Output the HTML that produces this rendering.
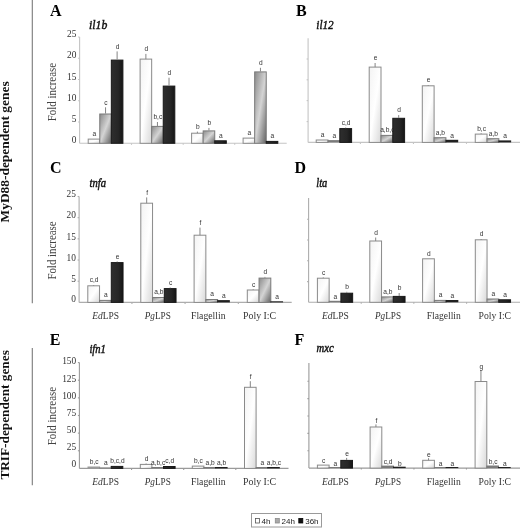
<!DOCTYPE html>
<html><head><meta charset="utf-8">
<style>
html,body{margin:0;padding:0;background:#fff;}
body{width:520px;height:528px;overflow:hidden;}
svg{display:block;filter:blur(0.3px);}
.pl{font-family:"Liberation Serif", serif;font-weight:bold;font-size:16px;fill:#000;}
.gn{font-family:"Liberation Serif", serif;font-style:italic;font-size:12.3px;fill:#111;stroke:#111;stroke-width:0.45px;}
.tl{font-family:"Liberation Serif", serif;font-size:9.4px;fill:#333;text-anchor:end;}
.yl{font-family:"Liberation Serif", serif;font-size:11.7px;fill:#444;text-anchor:middle;}
.xl{font-family:"Liberation Serif", serif;font-size:10.6px;fill:#333;}
.bl{font-family:"Liberation Sans", sans-serif;font-size:6.6px;fill:#333;text-anchor:middle;}
.lg{font-family:"Liberation Sans", sans-serif;font-size:8px;fill:#222;}
.side{font-family:"Liberation Serif", serif;font-weight:bold;font-size:13px;fill:#111;}
.ax{stroke-width:1.1;}
.eb{stroke:#858585;stroke-width:1;}
</style></head>
<body>
<svg width="520" height="528" viewBox="0 0 520 528">
<defs>
<linearGradient id="gw" x1="0" y1="0" x2="1" y2="1">
<stop offset="0" stop-color="#f3f3f3"/><stop offset="0.5" stop-color="#ffffff"/><stop offset="1" stop-color="#d8d8d8"/>
</linearGradient>
<linearGradient id="gg" x1="0" y1="0" x2="1" y2="1">
<stop offset="0" stop-color="#8a8a8a"/><stop offset="0.5" stop-color="#d4d4d4"/><stop offset="1" stop-color="#626262"/>
</linearGradient>
<linearGradient id="gb" x1="0" y1="0" x2="1" y2="0">
<stop offset="0" stop-color="#2e2e2e"/><stop offset="0.6" stop-color="#262626"/><stop offset="1" stop-color="#151515"/>
</linearGradient>
</defs>
<rect x="0" y="0" width="520" height="528" fill="#fff"/>
<text x="50" y="16" class="pl">A</text>
<text x="89.1" y="28.8" class="gn" textLength="18.2" lengthAdjust="spacingAndGlyphs">il1b</text>
<line x1="79.6" y1="37" x2="79.6" y2="143.3" stroke="#c4c4c4" class="ax"/>
<line x1="79.6" y1="143.3" x2="286.7" y2="143.3" stroke="#c4c4c4" class="ax"/>
<text x="76.4" y="37.2" class="tl">25</text>
<line x1="78.1" y1="37" x2="79.6" y2="37" stroke="#c4c4c4" class="ax"/>
<text x="76.4" y="58.4" class="tl">20</text>
<line x1="78.1" y1="58.26" x2="79.6" y2="58.26" stroke="#c4c4c4" class="ax"/>
<text x="76.4" y="79.6" class="tl">15</text>
<line x1="78.1" y1="79.52" x2="79.6" y2="79.52" stroke="#c4c4c4" class="ax"/>
<text x="76.4" y="101" class="tl">10</text>
<line x1="78.1" y1="100.78" x2="79.6" y2="100.78" stroke="#c4c4c4" class="ax"/>
<text x="76.4" y="122.2" class="tl">5</text>
<line x1="78.1" y1="122.04" x2="79.6" y2="122.04" stroke="#c4c4c4" class="ax"/>
<text x="76.4" y="143.2" class="tl">0</text>
<text transform="translate(55.8,92.1) rotate(-90)" class="yl" textLength="58.2" lengthAdjust="spacingAndGlyphs">Fold increase</text>
<rect x="88.2" y="139.1" width="11.57" height="4.2" fill="url(#gw)" stroke="#8a8a8a" stroke-width="1"/>
<text x="94.39" y="136.4" class="bl">a</text>
<rect x="99.77" y="114" width="11.57" height="29.3" fill="url(#gg)" stroke="#7a7a7a" stroke-width="1"/>
<line x1="105.56" y1="107.3" x2="105.56" y2="113.6" class="eb"/>
<text x="105.96" y="104.6" class="bl">c</text>
<rect x="111.34" y="60.1" width="11.57" height="83.2" fill="url(#gb)" stroke="#181818" stroke-width="1"/>
<line x1="117.12" y1="51.4" x2="117.12" y2="59.7" class="eb"/>
<text x="117.53" y="48.7" class="bl">d</text>
<rect x="140.1" y="59.1" width="11.57" height="84.2" fill="url(#gw)" stroke="#8a8a8a" stroke-width="1"/>
<line x1="145.88" y1="53.9" x2="145.88" y2="59.1" class="eb"/>
<text x="146.28" y="51.2" class="bl">d</text>
<rect x="151.67" y="126.4" width="11.57" height="16.9" fill="url(#gg)" stroke="#7a7a7a" stroke-width="1"/>
<line x1="157.45" y1="122" x2="157.45" y2="126" class="eb"/>
<text x="157.85" y="119.3" class="bl">b,c</text>
<rect x="163.24" y="86.1" width="11.57" height="57.2" fill="url(#gb)" stroke="#181818" stroke-width="1"/>
<line x1="169.03" y1="77.7" x2="169.03" y2="85.7" class="eb"/>
<text x="169.43" y="75" class="bl">d</text>
<rect x="191.6" y="133.2" width="11.57" height="10.1" fill="url(#gw)" stroke="#8a8a8a" stroke-width="1"/>
<line x1="197.38" y1="131.6" x2="197.38" y2="133.2" class="eb"/>
<text x="197.78" y="128.9" class="bl">b</text>
<rect x="203.17" y="130.9" width="11.57" height="12.4" fill="url(#gg)" stroke="#7a7a7a" stroke-width="1"/>
<line x1="208.95" y1="127.9" x2="208.95" y2="130.5" class="eb"/>
<text x="209.35" y="125.2" class="bl">b</text>
<rect x="214.74" y="140.8" width="11.57" height="2.5" fill="url(#gb)" stroke="#181818" stroke-width="1"/>
<text x="220.93" y="137.7" class="bl">a</text>
<rect x="243.1" y="138.1" width="11.57" height="5.2" fill="url(#gw)" stroke="#8a8a8a" stroke-width="1"/>
<text x="249.28" y="135.4" class="bl">a</text>
<rect x="254.67" y="71.9" width="11.57" height="71.4" fill="url(#gg)" stroke="#7a7a7a" stroke-width="1"/>
<line x1="260.45" y1="67.8" x2="260.45" y2="71.5" class="eb"/>
<text x="260.85" y="65.1" class="bl">d</text>
<rect x="266.24" y="141.4" width="11.57" height="1.9" fill="url(#gb)" stroke="#181818" stroke-width="1"/>
<text x="272.43" y="138.3" class="bl">a</text>
<line x1="131.5" y1="143.3" x2="131.5" y2="144.8" stroke="#c4c4c4" class="ax"/>
<line x1="183.2" y1="143.3" x2="183.2" y2="144.8" stroke="#c4c4c4" class="ax"/>
<line x1="234.7" y1="143.3" x2="234.7" y2="144.8" stroke="#c4c4c4" class="ax"/>
<text x="296" y="16.2" class="pl">B</text>
<text x="316.3" y="28.8" class="gn" textLength="17.3" lengthAdjust="spacingAndGlyphs">il12</text>
<line x1="308.1" y1="38.2" x2="308.1" y2="142.4" stroke="#c4c4c4" class="ax"/>
<line x1="308.1" y1="142.4" x2="520" y2="142.4" stroke="#c4c4c4" class="ax"/>
<line x1="306.6" y1="59" x2="308.1" y2="59" stroke="#c4c4c4" class="ax"/>
<line x1="306.6" y1="79.8" x2="308.1" y2="79.8" stroke="#c4c4c4" class="ax"/>
<line x1="306.6" y1="100.6" x2="308.1" y2="100.6" stroke="#c4c4c4" class="ax"/>
<line x1="306.6" y1="121.6" x2="308.1" y2="121.6" stroke="#c4c4c4" class="ax"/>
<rect x="316.2" y="140" width="11.8" height="2.4" fill="url(#gw)" stroke="#8a8a8a" stroke-width="1"/>
<text x="322.5" y="137.3" class="bl">a</text>
<rect x="327.5" y="140.1" width="12.8" height="2.3" fill="#7a7a7a"/>
<text x="334.3" y="137.9" class="bl">a</text>
<rect x="339.8" y="128.6" width="11.8" height="13.8" fill="url(#gb)" stroke="#181818" stroke-width="1"/>
<line x1="345.7" y1="127.5" x2="345.7" y2="128.2" class="eb"/>
<text x="346.1" y="124.8" class="bl">c,d</text>
<rect x="369.2" y="67.1" width="11.8" height="75.3" fill="url(#gw)" stroke="#8a8a8a" stroke-width="1"/>
<line x1="375.1" y1="63" x2="375.1" y2="67.1" class="eb"/>
<text x="375.5" y="60.3" class="bl">e</text>
<rect x="381" y="135.4" width="11.8" height="7" fill="url(#gg)" stroke="#7a7a7a" stroke-width="1"/>
<text x="387.3" y="132.3" class="bl">a,b,c</text>
<rect x="392.8" y="118.3" width="11.8" height="24.1" fill="url(#gb)" stroke="#181818" stroke-width="1"/>
<line x1="398.7" y1="115.1" x2="398.7" y2="117.9" class="eb"/>
<text x="399.1" y="112.4" class="bl">d</text>
<rect x="422.3" y="85.8" width="11.8" height="56.6" fill="url(#gw)" stroke="#8a8a8a" stroke-width="1"/>
<line x1="428.2" y1="85" x2="428.2" y2="85.8" class="eb"/>
<text x="428.6" y="82.3" class="bl">e</text>
<rect x="434.1" y="137.7" width="11.8" height="4.7" fill="url(#gg)" stroke="#7a7a7a" stroke-width="1"/>
<text x="440.4" y="134.6" class="bl">a,b</text>
<rect x="445.4" y="139.8" width="12.8" height="2.6" fill="#202020"/>
<text x="452.2" y="137.6" class="bl">a</text>
<rect x="475.25" y="134.1" width="11.8" height="8.3" fill="url(#gw)" stroke="#8a8a8a" stroke-width="1"/>
<line x1="481.15" y1="133.3" x2="481.15" y2="134.1" class="eb"/>
<text x="481.55" y="130.6" class="bl">b,c</text>
<rect x="487.05" y="138.7" width="11.8" height="3.7" fill="url(#gg)" stroke="#7a7a7a" stroke-width="1"/>
<text x="493.35" y="135.6" class="bl">a,b</text>
<rect x="498.35" y="140.4" width="12.8" height="2" fill="#202020"/>
<text x="505.15" y="138.2" class="bl">a</text>
<line x1="360.4" y1="142.4" x2="360.4" y2="143.9" stroke="#c4c4c4" class="ax"/>
<line x1="413.45" y1="142.4" x2="413.45" y2="143.9" stroke="#c4c4c4" class="ax"/>
<line x1="466.48" y1="142.4" x2="466.48" y2="143.9" stroke="#c4c4c4" class="ax"/>
<text x="50" y="173.3" class="pl">C</text>
<text x="89.5" y="187.4" class="gn" textLength="16.5" lengthAdjust="spacingAndGlyphs">tnfa</text>
<line x1="79.1" y1="196.5" x2="79.1" y2="302.4" stroke="#adadad" class="ax"/>
<line x1="79.1" y1="302.4" x2="291.7" y2="302.4" stroke="#adadad" class="ax"/>
<text x="75.9" y="197" class="tl">25</text>
<line x1="77.6" y1="196.5" x2="79.1" y2="196.5" stroke="#adadad" class="ax"/>
<text x="75.9" y="218.2" class="tl">20</text>
<line x1="77.6" y1="217.68" x2="79.1" y2="217.68" stroke="#adadad" class="ax"/>
<text x="75.9" y="239.7" class="tl">15</text>
<line x1="77.6" y1="238.86" x2="79.1" y2="238.86" stroke="#adadad" class="ax"/>
<text x="75.9" y="260.7" class="tl">10</text>
<line x1="77.6" y1="260.04" x2="79.1" y2="260.04" stroke="#adadad" class="ax"/>
<text x="75.9" y="281.7" class="tl">5</text>
<line x1="77.6" y1="281.22" x2="79.1" y2="281.22" stroke="#adadad" class="ax"/>
<text x="75.9" y="302.2" class="tl">0</text>
<text transform="translate(55.8,250.5) rotate(-90)" class="yl" textLength="58.2" lengthAdjust="spacingAndGlyphs">Fold increase</text>
<rect x="87.8" y="285.8" width="11.75" height="16.6" fill="url(#gw)" stroke="#8a8a8a" stroke-width="1"/>
<line x1="93.67" y1="285" x2="93.67" y2="285.8" class="eb"/>
<text x="94.08" y="282.3" class="bl">c,d</text>
<rect x="99.55" y="300.4" width="11.75" height="2" fill="url(#gg)" stroke="#7a7a7a" stroke-width="1"/>
<text x="105.83" y="297.3" class="bl">a</text>
<rect x="111.3" y="262.6" width="11.75" height="39.8" fill="url(#gb)" stroke="#181818" stroke-width="1"/>
<line x1="117.17" y1="261.4" x2="117.17" y2="262.2" class="eb"/>
<text x="117.58" y="258.7" class="bl">e</text>
<text x="92.3" y="319" class="xl" textLength="26.8" lengthAdjust="spacingAndGlyphs"><tspan font-style="italic">Ed</tspan>LPS</text>
<rect x="140.8" y="203.2" width="11.75" height="99.2" fill="url(#gw)" stroke="#8a8a8a" stroke-width="1"/>
<line x1="146.68" y1="197.4" x2="146.68" y2="203.2" class="eb"/>
<text x="147.08" y="194.7" class="bl">f</text>
<rect x="152.55" y="297.5" width="11.75" height="4.9" fill="url(#gg)" stroke="#7a7a7a" stroke-width="1"/>
<text x="158.83" y="294.4" class="bl">a,b</text>
<rect x="164.3" y="288.6" width="11.75" height="13.8" fill="url(#gb)" stroke="#181818" stroke-width="1"/>
<line x1="170.18" y1="287.5" x2="170.18" y2="288.2" class="eb"/>
<text x="170.58" y="284.8" class="bl">c</text>
<text x="144.7" y="319" class="xl" textLength="26.1" lengthAdjust="spacingAndGlyphs"><tspan font-style="italic">Pg</tspan>LPS</text>
<rect x="194.1" y="235.2" width="11.75" height="67.2" fill="url(#gw)" stroke="#8a8a8a" stroke-width="1"/>
<line x1="199.97" y1="227.6" x2="199.97" y2="235.2" class="eb"/>
<text x="200.38" y="224.9" class="bl">f</text>
<rect x="205.85" y="299.5" width="11.75" height="2.9" fill="url(#gg)" stroke="#7a7a7a" stroke-width="1"/>
<text x="212.12" y="296.4" class="bl">a</text>
<rect x="217.1" y="300.1" width="12.75" height="2.3" fill="#202020"/>
<text x="223.88" y="297.9" class="bl">a</text>
<text x="191" y="319" class="xl" textLength="34.5" lengthAdjust="spacingAndGlyphs">Flagellin</text>
<rect x="247.3" y="290" width="11.75" height="12.4" fill="url(#gw)" stroke="#8a8a8a" stroke-width="1"/>
<line x1="253.18" y1="289.3" x2="253.18" y2="290" class="eb"/>
<text x="253.58" y="286.6" class="bl">c</text>
<rect x="259.05" y="278.1" width="11.75" height="24.3" fill="url(#gg)" stroke="#7a7a7a" stroke-width="1"/>
<line x1="264.93" y1="276.9" x2="264.93" y2="277.7" class="eb"/>
<text x="265.32" y="274.2" class="bl">d</text>
<rect x="270.3" y="301.3" width="12.75" height="1.1" fill="#202020"/>
<text x="277.07" y="299.1" class="bl">a</text>
<text x="243" y="319" class="xl" textLength="33.2" lengthAdjust="spacingAndGlyphs">Poly I:C</text>
<line x1="131.93" y1="302.4" x2="131.93" y2="303.9" stroke="#adadad" class="ax"/>
<line x1="185.07" y1="302.4" x2="185.07" y2="303.9" stroke="#adadad" class="ax"/>
<line x1="238.32" y1="302.4" x2="238.32" y2="303.9" stroke="#adadad" class="ax"/>
<text x="294.5" y="173" class="pl">D</text>
<text x="316.3" y="187.2" class="gn" textLength="11.0" lengthAdjust="spacingAndGlyphs">lta</text>
<line x1="308.6" y1="198" x2="308.6" y2="302.3" stroke="#adadad" class="ax"/>
<line x1="308.6" y1="302.3" x2="520" y2="302.3" stroke="#adadad" class="ax"/>
<line x1="307.1" y1="219.2" x2="308.6" y2="219.2" stroke="#adadad" class="ax"/>
<line x1="307.1" y1="240" x2="308.6" y2="240" stroke="#adadad" class="ax"/>
<line x1="307.1" y1="260.8" x2="308.6" y2="260.8" stroke="#adadad" class="ax"/>
<line x1="307.1" y1="281.6" x2="308.6" y2="281.6" stroke="#adadad" class="ax"/>
<rect x="317.4" y="278.2" width="11.75" height="24.1" fill="url(#gw)" stroke="#8a8a8a" stroke-width="1"/>
<line x1="323.27" y1="277.4" x2="323.27" y2="278.2" class="eb"/>
<text x="323.67" y="274.7" class="bl">c</text>
<rect x="328.65" y="300.8" width="12.75" height="1.5" fill="#7a7a7a"/>
<text x="335.42" y="298.6" class="bl">a</text>
<rect x="340.9" y="293.2" width="11.75" height="9.1" fill="url(#gb)" stroke="#181818" stroke-width="1"/>
<line x1="346.77" y1="291.8" x2="346.77" y2="292.8" class="eb"/>
<text x="347.17" y="289.1" class="bl">b</text>
<text x="321.9" y="319" class="xl" textLength="27" lengthAdjust="spacingAndGlyphs"><tspan font-style="italic">Ed</tspan>LPS</text>
<rect x="369.8" y="241" width="11.75" height="61.3" fill="url(#gw)" stroke="#8a8a8a" stroke-width="1"/>
<line x1="375.68" y1="237.5" x2="375.68" y2="241" class="eb"/>
<text x="376.07" y="234.8" class="bl">d</text>
<rect x="381.55" y="296.9" width="11.75" height="5.4" fill="url(#gg)" stroke="#7a7a7a" stroke-width="1"/>
<text x="387.82" y="293.8" class="bl">a,b</text>
<rect x="393.3" y="296.4" width="11.75" height="5.9" fill="url(#gb)" stroke="#181818" stroke-width="1"/>
<line x1="399.18" y1="293" x2="399.18" y2="296" class="eb"/>
<text x="399.57" y="290.3" class="bl">b</text>
<text x="375" y="319" class="xl" textLength="26" lengthAdjust="spacingAndGlyphs"><tspan font-style="italic">Pg</tspan>LPS</text>
<rect x="422.6" y="258.8" width="11.75" height="43.5" fill="url(#gw)" stroke="#8a8a8a" stroke-width="1"/>
<text x="428.88" y="256.1" class="bl">d</text>
<rect x="434.35" y="300.4" width="11.75" height="1.9" fill="url(#gg)" stroke="#7a7a7a" stroke-width="1"/>
<text x="440.62" y="297.3" class="bl">a</text>
<rect x="445.6" y="300" width="12.75" height="2.3" fill="#202020"/>
<text x="452.38" y="297.8" class="bl">a</text>
<text x="426.7" y="319" class="xl" textLength="34.1" lengthAdjust="spacingAndGlyphs">Flagellin</text>
<rect x="475.3" y="239.8" width="11.75" height="62.5" fill="url(#gw)" stroke="#8a8a8a" stroke-width="1"/>
<line x1="481.18" y1="239" x2="481.18" y2="239.8" class="eb"/>
<text x="481.57" y="236.3" class="bl">d</text>
<rect x="487.05" y="299" width="11.75" height="3.3" fill="url(#gg)" stroke="#7a7a7a" stroke-width="1"/>
<text x="493.32" y="295.9" class="bl">a</text>
<rect x="498.8" y="299.8" width="11.75" height="2.5" fill="url(#gb)" stroke="#181818" stroke-width="1"/>
<text x="505.07" y="296.7" class="bl">a</text>
<text x="478.5" y="319" class="xl" textLength="32.6" lengthAdjust="spacingAndGlyphs">Poly I:C</text>
<line x1="361.23" y1="302.3" x2="361.23" y2="303.8" stroke="#adadad" class="ax"/>
<line x1="413.83" y1="302.3" x2="413.83" y2="303.8" stroke="#adadad" class="ax"/>
<line x1="466.58" y1="302.3" x2="466.58" y2="303.8" stroke="#adadad" class="ax"/>
<text x="49.8" y="344.8" class="pl">E</text>
<text x="89.4" y="353" class="gn" textLength="16.5" lengthAdjust="spacingAndGlyphs">ifn1</text>
<line x1="79.4" y1="362.6" x2="79.4" y2="468.4" stroke="#9a9a9a" class="ax"/>
<line x1="79.4" y1="468.4" x2="288.5" y2="468.4" stroke="#9a9a9a" class="ax"/>
<text x="76.2" y="364.2" class="tl">150</text>
<line x1="77.9" y1="362.6" x2="79.4" y2="362.6" stroke="#9a9a9a" class="ax"/>
<text x="76.2" y="381.5" class="tl">125</text>
<line x1="77.9" y1="380.23" x2="79.4" y2="380.23" stroke="#9a9a9a" class="ax"/>
<text x="76.2" y="398.7" class="tl">100</text>
<line x1="77.9" y1="397.87" x2="79.4" y2="397.87" stroke="#9a9a9a" class="ax"/>
<text x="76.2" y="415.7" class="tl">75</text>
<line x1="77.9" y1="415.5" x2="79.4" y2="415.5" stroke="#9a9a9a" class="ax"/>
<text x="76.2" y="432.7" class="tl">50</text>
<line x1="77.9" y1="433.13" x2="79.4" y2="433.13" stroke="#9a9a9a" class="ax"/>
<text x="76.2" y="449.7" class="tl">25</text>
<line x1="77.9" y1="450.77" x2="79.4" y2="450.77" stroke="#9a9a9a" class="ax"/>
<text x="76.2" y="467.2" class="tl">0</text>
<text transform="translate(55.8,416.1) rotate(-90)" class="yl" textLength="58.2" lengthAdjust="spacingAndGlyphs">Fold increase</text>
<rect x="87.5" y="466.5" width="12.6" height="1.9" fill="#9a9a9a"/>
<text x="94.2" y="464.3" class="bl">b,c</text>
<rect x="99.1" y="467.5" width="12.6" height="0.9" fill="#7a7a7a"/>
<text x="105.8" y="465.3" class="bl">a</text>
<rect x="111.2" y="466.4" width="11.6" height="2" fill="url(#gb)" stroke="#181818" stroke-width="1"/>
<text x="117.4" y="463.3" class="bl">b,c,d</text>
<text x="92.3" y="484.7" class="xl" textLength="26.8" lengthAdjust="spacingAndGlyphs"><tspan font-style="italic">Ed</tspan>LPS</text>
<rect x="140.3" y="464.4" width="11.6" height="4" fill="url(#gw)" stroke="#8a8a8a" stroke-width="1"/>
<line x1="146.1" y1="463.5" x2="146.1" y2="464.4" class="eb"/>
<text x="146.5" y="460.8" class="bl">d</text>
<rect x="151.4" y="467" width="12.6" height="1.4" fill="#7a7a7a"/>
<text x="158.1" y="464.8" class="bl">a,b,c</text>
<rect x="163.5" y="466.5" width="11.6" height="1.9" fill="url(#gb)" stroke="#181818" stroke-width="1"/>
<text x="169.7" y="463.4" class="bl">c,d</text>
<text x="144.7" y="484.7" class="xl" textLength="26.1" lengthAdjust="spacingAndGlyphs"><tspan font-style="italic">Pg</tspan>LPS</text>
<rect x="192.3" y="466.1" width="11.6" height="2.3" fill="url(#gw)" stroke="#8a8a8a" stroke-width="1"/>
<text x="198.5" y="463.4" class="bl">b,c</text>
<rect x="203.4" y="467" width="12.6" height="1.4" fill="#7a7a7a"/>
<text x="210.1" y="464.8" class="bl">a,b</text>
<rect x="215" y="467" width="12.6" height="1.4" fill="#202020"/>
<text x="221.7" y="464.8" class="bl">a,b</text>
<text x="191" y="484.7" class="xl" textLength="34.5" lengthAdjust="spacingAndGlyphs">Flagellin</text>
<rect x="244.5" y="387.3" width="11.6" height="81.1" fill="url(#gw)" stroke="#8a8a8a" stroke-width="1"/>
<line x1="250.3" y1="381.2" x2="250.3" y2="387.3" class="eb"/>
<text x="250.7" y="378.5" class="bl">f</text>
<rect x="255.6" y="467" width="12.6" height="1.4" fill="#7a7a7a"/>
<text x="262.3" y="464.8" class="bl">a</text>
<rect x="267.2" y="467" width="12.6" height="1.4" fill="#202020"/>
<text x="273.9" y="464.8" class="bl">a,b,c</text>
<text x="243" y="484.7" class="xl" textLength="33.2" lengthAdjust="spacingAndGlyphs">Poly I:C</text>
<line x1="131.55" y1="468.4" x2="131.55" y2="469.9" stroke="#9a9a9a" class="ax"/>
<line x1="183.7" y1="468.4" x2="183.7" y2="469.9" stroke="#9a9a9a" class="ax"/>
<line x1="235.8" y1="468.4" x2="235.8" y2="469.9" stroke="#9a9a9a" class="ax"/>
<text x="294.5" y="344.8" class="pl">F</text>
<text x="316.6" y="351.8" class="gn" textLength="17.1" lengthAdjust="spacingAndGlyphs">mxc</text>
<line x1="308.9" y1="363.1" x2="308.9" y2="468.1" stroke="#9a9a9a" class="ax"/>
<line x1="308.9" y1="468.1" x2="520" y2="468.1" stroke="#9a9a9a" class="ax"/>
<line x1="307.4" y1="381.2" x2="308.9" y2="381.2" stroke="#9a9a9a" class="ax"/>
<line x1="307.4" y1="398.6" x2="308.9" y2="398.6" stroke="#9a9a9a" class="ax"/>
<line x1="307.4" y1="416" x2="308.9" y2="416" stroke="#9a9a9a" class="ax"/>
<line x1="307.4" y1="433.4" x2="308.9" y2="433.4" stroke="#9a9a9a" class="ax"/>
<line x1="307.4" y1="450.8" x2="308.9" y2="450.8" stroke="#9a9a9a" class="ax"/>
<rect x="317.4" y="465.1" width="11.7" height="3" fill="url(#gw)" stroke="#8a8a8a" stroke-width="1"/>
<text x="323.65" y="463.4" class="bl">c</text>
<rect x="328.6" y="467" width="12.7" height="1.1" fill="#7a7a7a"/>
<text x="335.35" y="465.8" class="bl">a</text>
<rect x="340.8" y="460.4" width="11.7" height="7.7" fill="url(#gb)" stroke="#181818" stroke-width="1"/>
<line x1="346.65" y1="457.9" x2="346.65" y2="460" class="eb"/>
<text x="347.05" y="456.2" class="bl">e</text>
<text x="321.9" y="484.7" class="xl" textLength="27" lengthAdjust="spacingAndGlyphs"><tspan font-style="italic">Ed</tspan>LPS</text>
<rect x="370.1" y="427" width="11.7" height="41.1" fill="url(#gw)" stroke="#8a8a8a" stroke-width="1"/>
<line x1="375.95" y1="424.4" x2="375.95" y2="427" class="eb"/>
<text x="376.35" y="422.7" class="bl">f</text>
<rect x="381.3" y="465.6" width="12.7" height="2.5" fill="#7a7a7a"/>
<text x="388.05" y="464.4" class="bl">c,d</text>
<rect x="393" y="466.7" width="12.7" height="1.4" fill="#202020"/>
<text x="399.75" y="465.5" class="bl">b</text>
<text x="375" y="484.7" class="xl" textLength="26" lengthAdjust="spacingAndGlyphs"><tspan font-style="italic">Pg</tspan>LPS</text>
<rect x="422.7" y="460.3" width="11.7" height="7.8" fill="url(#gw)" stroke="#8a8a8a" stroke-width="1"/>
<line x1="428.55" y1="458.2" x2="428.55" y2="460.3" class="eb"/>
<text x="428.95" y="456.5" class="bl">e</text>
<rect x="433.9" y="467" width="12.7" height="1.1" fill="#7a7a7a"/>
<text x="440.65" y="465.8" class="bl">a</text>
<rect x="445.6" y="467" width="12.7" height="1.1" fill="#202020"/>
<text x="452.35" y="465.8" class="bl">a</text>
<text x="426.7" y="484.7" class="xl" textLength="34.1" lengthAdjust="spacingAndGlyphs">Flagellin</text>
<rect x="475.1" y="381.5" width="11.7" height="86.6" fill="url(#gw)" stroke="#8a8a8a" stroke-width="1"/>
<line x1="480.95" y1="370.3" x2="480.95" y2="381.5" class="eb"/>
<text x="481.35" y="368.6" class="bl">g</text>
<rect x="486.3" y="465.5" width="12.7" height="2.6" fill="#7a7a7a"/>
<text x="493.05" y="464.3" class="bl">b,c</text>
<rect x="498" y="467" width="12.7" height="1.1" fill="#202020"/>
<text x="504.75" y="465.8" class="bl">a</text>
<text x="478.5" y="484.7" class="xl" textLength="32.6" lengthAdjust="spacingAndGlyphs">Poly I:C</text>
<line x1="361.3" y1="468.1" x2="361.3" y2="469.6" stroke="#9a9a9a" class="ax"/>
<line x1="413.95" y1="468.1" x2="413.95" y2="469.6" stroke="#9a9a9a" class="ax"/>
<line x1="466.45" y1="468.1" x2="466.45" y2="469.6" stroke="#9a9a9a" class="ax"/>
<line x1="32.3" y1="0" x2="32.3" y2="303.3" stroke="#7a7a7a" stroke-width="1.1"/>
<line x1="32.3" y1="348" x2="32.3" y2="485.3" stroke="#7a7a7a" stroke-width="1.1"/>
<text transform="translate(9.3,222.4) rotate(-90)" class="side" textLength="141" lengthAdjust="spacingAndGlyphs">MyD88-dependent genes</text>
<text transform="translate(9.3,479.6) rotate(-90)" class="side" textLength="129.4" lengthAdjust="spacingAndGlyphs">TRIF-dependent genes</text>
<rect x="251.5" y="513.5" width="70" height="13.5" fill="#fff" stroke="#9a9a9a" stroke-width="1"/>
<rect x="255.5" y="518.5" width="4" height="4.5" fill="#fff" stroke="#555" stroke-width="0.8"/>
<text x="261.6" y="523.5" class="lg">4h</text>
<rect x="275.3" y="518.5" width="4" height="4.5" fill="#aaa" stroke="#8a8a8a" stroke-width="0.8"/>
<text x="281.5" y="523.5" class="lg">24h</text>
<rect x="298.8" y="518.5" width="4" height="4.5" fill="#111" stroke="#000" stroke-width="0.8"/>
<text x="305.2" y="523.5" class="lg">36h</text>
</svg>
</body></html>
